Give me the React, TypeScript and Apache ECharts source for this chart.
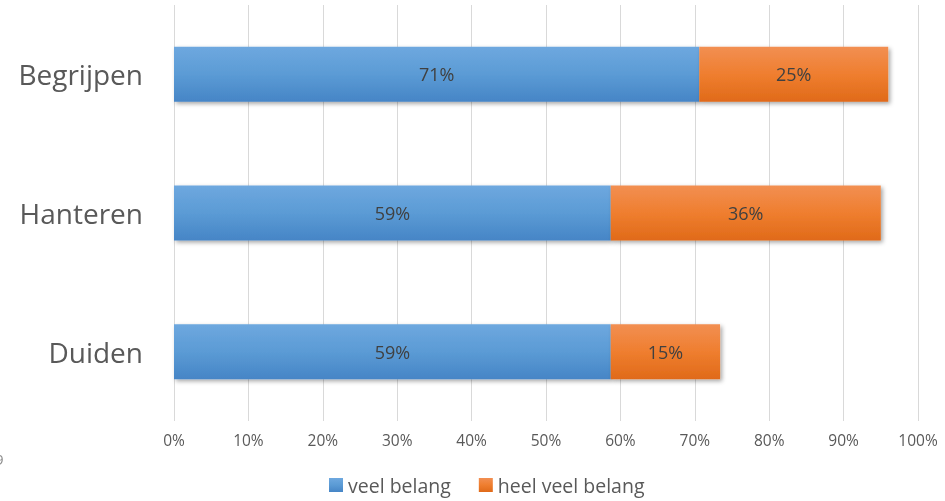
import React, { useEffect, useRef } from "react";
import * as echarts from "echarts";

const categories = ["Begrijpen", "Hanteren", "Duiden"];
const veelBelang = [70.6, 58.7, 58.7];
const heelVeelBelang = [25.4, 36.3, 14.7];
const seriesNames = ["veel belang", "heel veel belang"];

const FONT = "'Open Sans', sans-serif";

export default function App() {
  const ref = useRef<HTMLDivElement>(null);
  useEffect(() => {
    if (!ref.current) return;
    const chart = echarts.init(ref.current, undefined, { renderer: "svg" });
    const grad = (a: string, b: string, c: string) =>
      new echarts.graphic.LinearGradient(0, 0, 0, 1, [
        { offset: 0, color: a },
        { offset: 0.5, color: b },
        { offset: 1, color: c },
      ]);
    const itemShadow = {
      shadowColor: "rgba(0,0,0,0.35)",
      shadowBlur: 4,
      shadowOffsetX: 2,
      shadowOffsetY: 2,
    };
    const label = {
      show: true,
      position: "inside",
      color: "#404040",
      fontSize: 18,
      fontFamily: FONT,
      formatter: (p: any) => Math.round(p.value) + "%",
    };
    chart.setOption({
      animation: false,
      textStyle: { fontFamily: FONT },
      grid: { left: 174, right: 27, top: 5, bottom: 80, containLabel: false },
      xAxis: {
        type: "value",
        min: 0,
        max: 100,
        interval: 10,
        axisLine: { show: false },
        axisTick: { show: false },
        splitLine: { lineStyle: { color: "#d9d9d9", width: 1 } },
        axisLabel: {
          formatter: "{value}%",
          color: "#595959",
          fontSize: 15.5,
          margin: 11,
          fontFamily: FONT,
        },
      },
      yAxis: {
        type: "category",
        inverse: true,
        data: categories,
        axisLine: { show: false },
        axisTick: { show: false },
        axisLabel: { color: "#595959", fontSize: 28, margin: 31, fontFamily: FONT },
      },
      legend: {
        top: 475,
        left: 329,
        icon: "rect",
        itemWidth: 14,
        itemHeight: 14,
        itemGap: 28,
        itemTextGap: 4,
        padding: 0,
        textStyle: { color: "#595959", fontSize: 19.5, fontFamily: FONT },
        data: seriesNames,
      },
      graphic: [
        {
          type: "text",
          left: -5,
          top: 451,
          style: { text: "9", fill: "#8c8c8c", fontSize: 15, fontFamily: FONT },
        },
      ],
      series: [
        {
          name: seriesNames[0],
          type: "bar",
          stack: "total",
          barWidth: 55,
          data: veelBelang,
          label,
          itemStyle: { color: grad("#6ea8df", "#5b9bd5", "#4685c6"), ...itemShadow },
        },
        {
          name: seriesNames[1],
          type: "bar",
          stack: "total",
          barWidth: 55,
          data: heelVeelBelang,
          label,
          itemStyle: { color: grad("#f28f52", "#ef7e2f", "#e06a19"), ...itemShadow },
        },
      ],
    });
    return () => chart.dispose();
  }, []);
  return (
    <div
      ref={ref}
      style={{ position: "fixed", left: 0, top: 0, width: 945, height: 501 }}
    />
  );
}
